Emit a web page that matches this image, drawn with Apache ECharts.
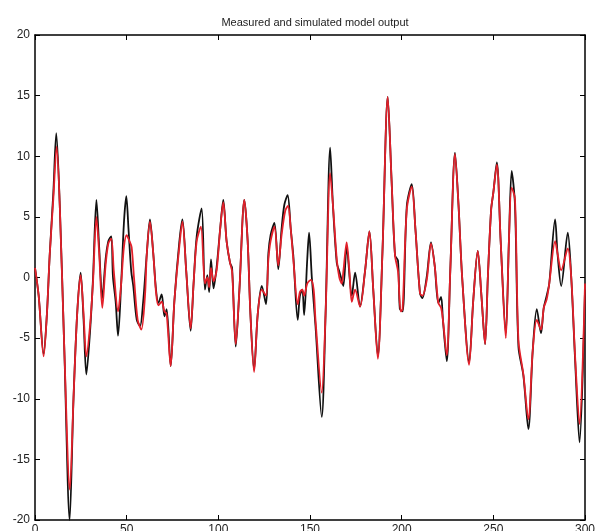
<!DOCTYPE html>
<html>
<head>
<meta charset="utf-8">
<script src="https://cdn.jsdelivr.net/npm/echarts@6/dist/echarts.min.js"></script>
<style>
  html, body { margin: 0; padding: 0; background: #fff; }
  #chart { width: 600px; height: 531px; }
</style>
</head>
<body>
<div id="chart"></div>
<script>
// measured output (black), [sample, value]
var measured = [
  [0, 0.8], [2, -1.5], [4.7, -6.3], [6.5, -3], [8, 1.8], [10, 7], [11.6, 11.9], [13.5, 6], [16, -6],
  [18.9, -20], [21, -10], [23, -3], [24.9, 0.4], [26.5, -3.5], [28, -8], [30, -4.5], [31.6, -0.2],
  [33.5, 6.4], [35, 2.5], [36.7, -1.7], [38.5, 1.5], [40, 3], [41.6, 3.4], [42.5, 0.1], [44, -2],
  [45.3, -4.8], [47, -0.5], [48.5, 4.5], [49.8, 6.7], [51, 4], [52.5, 0.5], [53.6, -0.7], [55.5, -3.5],
  [57.3, -4], [59, -2], [61, 2], [62.7, 4.8], [64.5, 2], [66, -1], [67.3, -2.1], [69.1, -1.4],
  [70.6, -3.2], [71.8, -2.6], [74, -7.3], [76, -2], [78.7, 2.9], [80.4, 4.8], [82.5, 0.5], [84.9, -4.4],
  [86.5, -0.5], [88.2, 3.4], [90.9, 5.7], [92.7, -1], [94, 0.2], [95, -1.2], [96, 1.5], [97.4, -0.9],
  [99.1, 0.9], [101, 4], [102.7, 6.4], [104.5, 3], [106.4, 1.2], [107.5, 0.8], [109.5, -5.7],
  [111.5, -1], [114.2, 6.4], [116, 3], [117.5, -3], [119.5, -7.6], [121.5, -3], [123.7, -0.7],
  [126, -2.2], [127.3, 2.0], [128.5, 3.5], [130.6, 4.5], [132.7, 0.7], [134.5, 4], [136, 6],
  [137.8, 6.8], [139.5, 4], [140.9, 1.8], [143.3, -3.5], [144.5, -1.5], [145.8, -1], [146.8, -3.1],
  [148.5, 1.5], [149.5, 3.7], [151, 0], [153, -4], [156.4, -11.5], [158.5, -3], [161, 10.7],
  [162.5, 6], [164.6, 1.2], [166, 0.5], [167.3, -0.2], [168.2, -0.7], [170, 2.5], [172.8, -1.5],
  [174.6, 0.4], [177.3, -2.4], [180, 0.5], [182.4, 3.8], [184.5, -1], [187, -6.5], [189.5, 2],
  [192.4, 14.9], [194.5, 8], [196.4, 1.8], [198, 1.4], [199, -2.6], [200.5, -2.8], [202.8, 5.9],
  [205.5, 7.7], [207.5, 4], [210, -1.3], [211.3, -1.7], [213.7, 0.1], [216, 2.9], [218, 1],
  [220, -2.1], [221.5, -1.6], [222.5, -3.5], [224.6, -6.9], [226.5, 0.5], [229.1, 10.3], [231, 6],
  [233, 0], [236.8, -7], [239, -2], [241.5, 2.2], [243.5, -1.5], [245.5, -5.5], [247, 0], [248.8, 5.6],
  [250, 7], [251.9, 9.5], [254, 3], [256.8, -4.6], [258.5, 3], [260, 8.8], [261.8, 6], [263.7, -5.7],
  [266.4, -8.1], [269.1, -12.5], [271.5, -6], [273.7, -2.6], [276, -4.6], [277.5, -2.5], [279.1, -1.5],
  [280.5, -0.5], [283.7, 4.8], [285, 2], [287, -0.7], [290.6, 3.7], [292.5, 0], [294.6, -6.8],
  [297, -13.6], [300, -1]
];

// simulated model output (red)
var simulated = [
  [0, 0.8], [2, -1.5], [4.7, -6.5], [6.5, -3], [8, 1.8], [10, 6.5], [11.8, 10.8], [13.5, 6], [16, -6],
  [19, -17.5], [21, -10], [23, -3], [24.9, 0.2], [26.5, -3], [28, -6.5], [30, -4], [31.6, -0.5],
  [33.5, 5], [35, 2], [36.7, -2.5], [38.5, 1], [40, 2.8], [41.6, 3.2], [43, 0.5], [45.3, -2.8],
  [47, -0.5], [48.5, 2.5], [50, 3.5], [51.5, 3], [52.7, 2.5], [54, 0], [56, -3.5], [58, -4.3],
  [60, -1.5], [61, 2], [62.7, 4.6], [64.5, 2], [66, -1.2], [67.3, -2.3], [69.1, -2], [70.6, -2.8],
  [71.8, -3], [74, -7.3], [76, -2], [78.7, 2.5], [80.4, 4.6], [82.5, 0.5], [84.9, -4.2], [86.5, -0.5],
  [88.2, 3.0], [90.5, 4.2], [92.7, -0.5], [94, 0], [95, -0.8], [96, 0.8], [97.4, -0.3], [99.1, 0.6],
  [101, 4], [102.7, 6.2], [104.5, 3], [106.4, 1.2], [107.5, 0.5], [109.5, -5.5], [111.5, -1],
  [114.2, 6.4], [116, 3], [117.5, -3], [119.5, -7.8], [121.5, -3], [123.7, -1], [126, -1.5],
  [127.3, 1.5], [128.5, 3], [130.6, 4.2], [132.7, 1.0], [134.5, 3.5], [136.5, 5.5], [138, 5.9],
  [139.5, 4], [140.9, 1.5], [143.3, -2.2], [144.5, -1.2], [145.8, -1], [146.8, -1.5], [148.5, -0.5],
  [150.5, -0.2], [152, -1], [153, -3.5], [156.4, -9.5], [158.5, -3], [161, 8.6], [162.5, 6],
  [164.6, 1.5], [166, 0], [167.3, -0.5], [168.2, 0.5], [170, 2.9], [171.5, 0.5], [172.8, -2],
  [174.6, -1], [177.3, -2.4], [180, 0.5], [182.4, 3.8], [184.5, -1], [187, -6.7], [189.5, 2],
  [192.4, 14.9], [194.5, 8], [196.4, 1.8], [198, 0.5], [199.5, -2.8], [200.5, -2.6], [202.8, 5.6],
  [205.5, 7.5], [207.5, 4], [210, -1.3], [211.3, -1.5], [213.7, -0.2], [216, 2.8], [218, 1],
  [220, -2.1], [221.5, -2.5], [222.5, -3.5], [224.6, -6.4], [226.5, 0.5], [229.1, 10.2], [231, 6],
  [233, 0], [236.8, -7.2], [239, -2], [241.5, 2.2], [243.5, -1.5], [245.5, -5.5], [247, 0], [248.8, 5.6],
  [250, 7], [251.9, 9.3], [254, 3], [256.8, -5], [258.5, 3], [260, 7.4], [261.8, 6.5], [263.7, -5.2],
  [266.4, -8], [269.1, -11.7], [271.5, -6], [273.7, -3.5], [276, -4.3], [277.5, -2.5], [279.1, -1.8],
  [280.5, -0.5], [283.7, 3.0], [285, 2], [287, 0.6], [290.6, 2.4], [292.5, 0], [294.6, -6.5],
  [297, -12.1], [300, -0.5]
];

var xTicks = [0, 50, 100, 150, 200, 250, 300];
var yTicks = [-20, -15, -10, -5, 0, 5, 10, 15, 20];
var titleText = 'Measured and simulated model output';

var font = '"Liberation Sans", Arial, sans-serif';
var chart = echarts.init(document.getElementById('chart'));

function frameAxis(extra) {
  return Object.assign({
    type: 'value',
    axisLine: { show: true, onZero: false, lineStyle: { color: '#000', width: 1.5 } },
    axisTick: { show: true, inside: true, length: 5, lineStyle: { color: '#000', width: 1 } },
    splitLine: { show: false },
    axisLabel: { show: false }
  }, extra);
}

chart.setOption({
  animation: false,
  backgroundColor: '#fff',
  title: {
    text: titleText,
    left: 310,
    textAlign: 'center',
    top: 12,
    textStyle: { fontFamily: font, fontSize: 11, fontWeight: 'normal', color: '#222' }
  },
  grid: { left: 35, right: 15, top: 35, bottom: 11, outerBoundsMode: 'none', containLabel: false },
  xAxis: [
    frameAxis({
      min: xTicks[0], max: xTicks[xTicks.length - 1], interval: 50,
      axisLabel: { show: true, margin: 4, color: '#222', fontFamily: font, fontSize: 12 }
    }),
    frameAxis({ position: 'top', min: 0, max: 300, interval: 50 })
  ],
  yAxis: [
    frameAxis({
      min: yTicks[0], max: yTicks[yTicks.length - 1], interval: 5,
      axisLabel: { show: true, margin: 5, color: '#222', fontFamily: font, fontSize: 12 }
    }),
    frameAxis({ position: 'right', min: -20, max: 20, interval: 5 })
  ],
  series: [
    {
      name: 'measured',
      type: 'line',
      data: measured,
      smooth: 0.3,
      showSymbol: false,
      lineStyle: { color: '#111', width: 1.8 },
      z: 2
    },
    {
      name: 'simulated',
      type: 'line',
      data: simulated,
      smooth: 0.3,
      showSymbol: false,
      lineStyle: { color: '#e3202a', width: 1.8 },
      z: 3
    }
  ]
});
</script>
</body>
</html>
